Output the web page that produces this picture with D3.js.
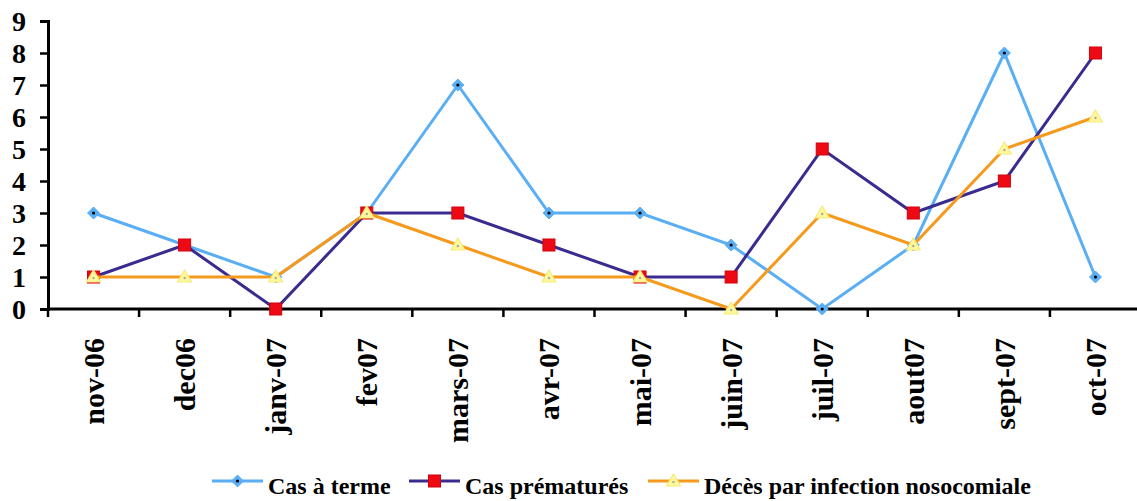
<!DOCTYPE html>
<html>
<head>
<meta charset="utf-8">
<script src="https://cdn.jsdelivr.net/npm/d3@7/dist/d3.min.js"></script>
</head>
<body style="margin:0;padding:0;background:#fff">
<svg id="chart" width="1137" height="501" style="display:block"></svg>
<script>
// Monthly case counts, Nov 2006 to Oct 2007
const months = ["nov-06", "dec06", "janv-07", "fev07", "mars-07", "avr-07", "mai-07", "juin-07", "juil-07", "aout07", "sept-07", "oct-07"];
const casTerme = [3, 2, 1, 3, 7, 3, 3, 2, 0, 2, 8, 1];
const casPrematures = [1, 2, 0, 3, 3, 2, 1, 1, 5, 3, 4, 8];
const decesInfection = [1, 1, 1, 3, 2, 1, 1, 0, 3, 2, 5, 6];
const yTicks = [0, 1, 2, 3, 4, 5, 6, 7, 8, 9];

const series = [
  { name: "Cas à terme", values: casTerme, line: "#5aaef4", marker: "diamond" },
  { name: "Cas prématurés", values: casPrematures, line: "#3a2c8e", marker: "square" },
  { name: "Décès par infection nosocomiale", values: decesInfection, line: "#f59a1c", marker: "triangle" }
];

const FONT = '"Liberation Serif", "Times New Roman", serif';
const svg = d3.select("#chart");
const plotLeft = 48, plotRight = 1141, plotTop = 21, plotBottom = 309;

const x = d3.scaleBand().domain(months).range([plotLeft, plotRight]);
const y = d3.scaleLinear().domain([0, 9]).range([plotBottom, plotTop]);

function styleText(sel, size) {
  sel.style("font-family", FONT).style("font-weight", "bold")
    .style("font-size", size).attr("fill", "#000");
}

// Y axis
const yAxis = svg.append("g").attr("transform", `translate(${plotLeft},0)`)
  .call(d3.axisLeft(y).tickValues(yTicks).tickFormat(d3.format("d")).tickSize(8).tickPadding(14));
yAxis.attr("font-family", null);
yAxis.select(".domain").attr("stroke", "#000").attr("stroke-width", 3);
yAxis.selectAll(".tick line").attr("stroke", "#000").attr("stroke-width", 2.5);
yAxis.selectAll(".tick text").call(styleText, "28px").attr("dy", "0.34em");

// X axis: ticks sit between categories
const xAxisG = svg.append("g").attr("transform", `translate(0,${plotBottom})`);
xAxisG.append("line").attr("x1", plotLeft).attr("x2", 1137).attr("stroke", "#000").attr("stroke-width", 3);
xAxisG.selectAll("line.tk").data(months).enter().append("line")
  .attr("class", "tk")
  .attr("x1", d => x(d)).attr("x2", d => x(d))
  .attr("y1", 0).attr("y2", 8)
  .attr("stroke", "#000").attr("stroke-width", 2.5);
xAxisG.selectAll("text").data(months).enter().append("text")
  .attr("transform", d => `translate(${x(d) + x.bandwidth() / 2},29) rotate(-90)`)
  .attr("text-anchor", "end")
  .attr("dy", "0.35em")
  .call(styleText, "30px")
  .text(d => d);

const cx = i => x(months[i]) + x.bandwidth() / 2;

function drawMarker(g, type, px, py) {
  if (type === "diamond") {
    g.append("path")
      .attr("d", `M${px},${py - 6}L${px + 6},${py}L${px},${py + 6}L${px - 6},${py}Z`)
      .attr("fill", "#5aaef4").attr("stroke", "#5aaef4").attr("stroke-width", 1);
    g.append("circle").attr("cx", px).attr("cy", py).attr("r", 1.6).attr("fill", "#000");
  } else if (type === "square") {
    g.append("rect").attr("x", px - 6).attr("y", py - 6).attr("width", 12).attr("height", 12)
      .attr("fill", "#ee0a14").attr("stroke", "#d4000a").attr("stroke-width", 1);
  } else {
    g.append("path")
      .attr("d", `M${px},${py - 7}L${px + 7},${py + 5}L${px - 7},${py + 5}Z`)
      .attr("fill", "#fff89a").attr("stroke", "#f3ec80").attr("stroke-width", 1.2);
    g.append("circle").attr("cx", px).attr("cy", py + 1).attr("r", 1.2).attr("fill", "#a8a8a8");
  }
}

const line = d3.line().x((d, i) => cx(i)).y(d => y(d));

series.forEach(s => {
  const g = svg.append("g");
  g.append("path").datum(s.values)
    .attr("d", line)
    .attr("fill", "none")
    .attr("stroke", s.line)
    .attr("stroke-width", 3)
    .attr("stroke-linejoin", "miter");
  s.values.forEach((v, i) => drawMarker(g, s.marker, cx(i), y(v)));
});

// Legend
const legendItems = [
  { lx: 212, tx: 268 },
  { lx: 409, tx: 465 },
  { lx: 648, tx: 704 }
];
const legend = svg.append("g");
series.forEach((s, i) => {
  const p = legendItems[i];
  legend.append("line").attr("x1", p.lx).attr("x2", p.lx + 51)
    .attr("y1", 481).attr("y2", 481)
    .attr("stroke", s.line).attr("stroke-width", 3);
  drawMarker(legend, s.marker, p.lx + 25.5, 481);
  legend.append("text").attr("x", p.tx).attr("y", 494)
    .call(styleText, "24px").text(s.name);
});
</script>
</body>
</html>
